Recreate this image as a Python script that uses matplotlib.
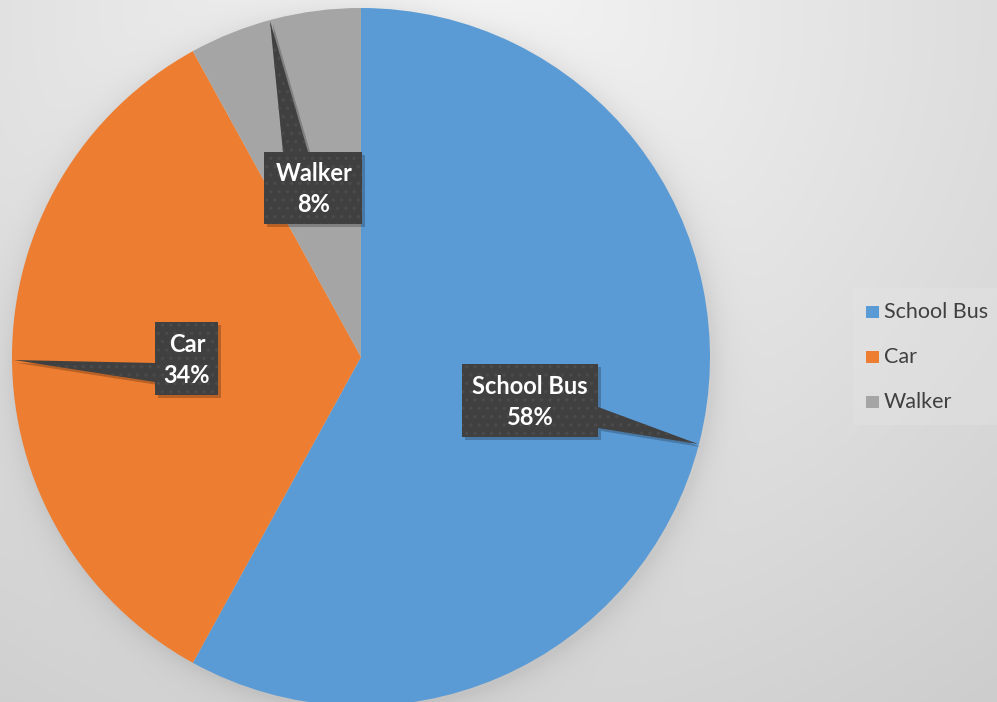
import matplotlib
matplotlib.use('Agg')

import matplotlib.pyplot as plt
import numpy as np
from matplotlib.patches import Polygon, Rectangle

# data
categories = ['School Bus', 'Car', 'Walker']
shares = [58, 34, 8]
colors = ['#5B9BD5', '#ED7D31', '#A5A5A5']

W, H = 997, 702
cx, cy, R = 361, 357, 349  # pie centre / radius in image pixels

plt.rcParams['font.family'] = ['Lato', 'DejaVu Sans']
plt.rcParams['hatch.linewidth'] = 1.2

fig = plt.figure(figsize=(W / 100, H / 100), dpi=100)
ax = fig.add_axes([0, 0, 1, 1])

# background: soft radial gradient plus a shadow round the pie
yy, xx = np.mgrid[0:H, 0:W]
d = np.sqrt(((xx - 450) / 1.0) ** 2 + ((yy - 20) / 0.95) ** 2)
bg = 0.965 - 0.17 * (d / 950)
r = np.sqrt((xx - cx - 2) ** 2 + (yy - cy - 3) ** 2)
bg -= 0.07 * np.exp(-np.clip(r - R, 0, None) / 14)
bg = np.clip(bg, 0, 1)
ax.imshow(np.dstack([bg, bg, bg]), extent=(0, W, 0, H), origin='upper',
          zorder=0, aspect='auto')

ax.pie(shares, colors=colors, startangle=90, counterclock=False,
       center=(cx, H - cy), radius=R,
       wedgeprops=dict(linewidth=0, zorder=2))

# data-label callouts (image coords)
callouts = {
    'School Bus': [(462, 364), (598, 364), (598, 407), (698, 444), (598, 428),
                   (598, 437), (462, 437)],
    'Car': [(155, 322), (218, 322), (218, 395), (155, 395), (155, 382),
            (14, 360), (155, 363)],
    'Walker': [(264, 152), (283, 152), (270, 21), (308, 152), (362, 152),
               (362, 224), (264, 224)],
}
text_pos = {'School Bus': (530, 402), 'Car': (187, 360), 'Walker': (314, 189)}

for name, pct in zip(categories, shares):
    pts = [(x, H - y) for x, y in callouts[name]]
    shadow = [(x + 3, y - 3) for x, y in pts]
    ax.add_patch(Polygon(shadow, closed=True, facecolor='black', alpha=0.22,
                         linewidth=0, zorder=3))
    ax.add_patch(Polygon(pts, closed=True, facecolor='#404040',
                         edgecolor='#4b4b4b', hatch='..', linewidth=0, zorder=4))
    tx, ty = text_pos[name]
    ax.text(tx, H - ty, f'{name}\n{pct}%', ha='center', va='center',
            fontsize=17, fontweight='bold', color='white', linespacing=1.38,
            zorder=5)

# legend
ax.add_patch(Rectangle((853, H - 425), 150, 137, facecolor='#e6e6e6',
                       edgecolor='none', alpha=0.35, zorder=1))
for i, (name, col) in enumerate(zip(categories, colors)):
    y = 312 + i * 45
    ax.add_patch(Rectangle((866, H - y - 6), 13, 12, facecolor=col,
                           edgecolor='none', zorder=5))
    ax.text(884, H - y, name, ha='left', va='center', fontsize=15.5,
            color='#404040', zorder=5)

ax.set_xlim(0, W)
ax.set_ylim(0, H)
ax.set_aspect('auto')
ax.axis('off')

plt.savefig('out.png', dpi=100)
